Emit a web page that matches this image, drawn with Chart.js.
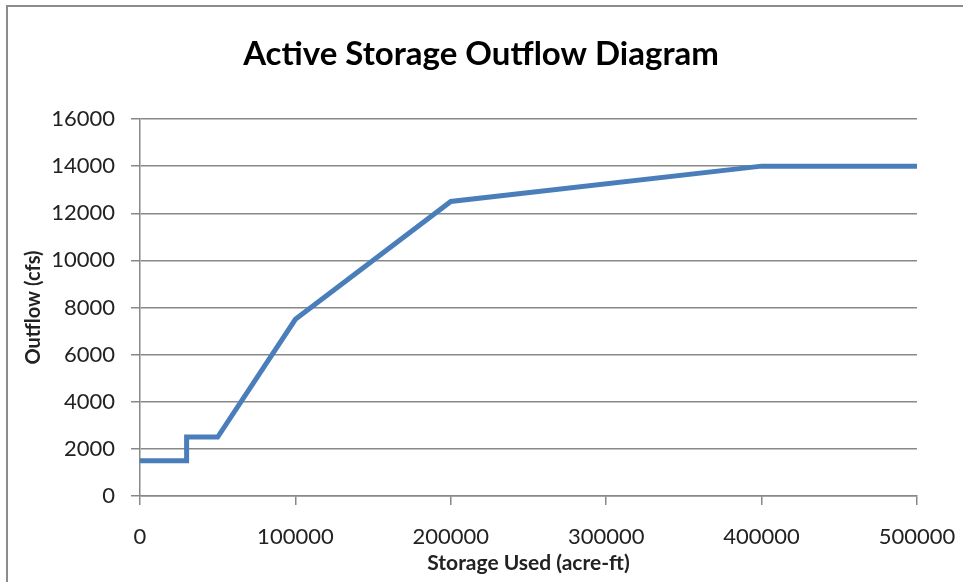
<!DOCTYPE html>
<html lang="en">
<head>
  <meta charset="UTF-8" />
  <title>Active Storage Outflow Diagram</title>
  <style>
    html, body { margin: 0; padding: 0; background: #fff; }
    #wrap { position: relative; width: 963px; height: 582px; overflow: hidden; }
    #frame {
      position: absolute; left: 6px; top: 5px; width: 1000px; height: 600px;
      border: 2px solid #8c8c8c; box-sizing: border-box; pointer-events: none;
    }
    canvas { position: absolute; left: 0; top: 0; }
  </style>
</head>
<body>
  <div id="wrap">
    <div id="frame"></div>
    <canvas id="outflowChart" width="963" height="582"></canvas>
  </div>

  <script src="https://cdn.jsdelivr.net/npm/chart.js"></script>
  <script>
    // storage used (acre-ft) vs outflow (cfs)
    const storageUsed = [0, 30000, 30000, 50000, 100000, 200000, 400000, 500000];
    const outflow     = [1500, 1500, 2500, 2500, 7500, 12500, 14000, 14000];

    const xTicks = [0, 100000, 200000, 300000, 400000, 500000];
    const yTicks = [0, 2000, 4000, 6000, 8000, 10000, 12000, 14000, 16000];

    const chartTitle = 'Active Storage Outflow Diagram';

    const points = storageUsed.map((x, i) => ({ x: x, y: outflow[i] }));

    const fam = 'Lato, "Open Sans", sans-serif';
    const tickFont = { family: fam, size: 22 };
    const labelColor = '#222';

    // title drawn by hand so it can sit where Excel put it
    const titlePlugin = {
      id: 'manualTitle',
      afterDraw(chart) {
        const c = chart.ctx;
        c.save();
        c.font = 'bold 33px ' + fam;
        c.fillStyle = '#000';
        c.textAlign = 'center';
        c.textBaseline = 'middle';
        c.fillText(chartTitle, 481, 54);
        c.restore();
      }
    };

    const ctx = document.getElementById('outflowChart').getContext('2d');
    const chart = new Chart(ctx, {
      type: 'line',
      data: {
        datasets: [{
          label: 'Outflow',
          data: points,
          borderColor: '#4a7ebb',
          borderWidth: 5,
          pointRadius: 0,
          fill: false,
          tension: 0
        }]
      },
      plugins: [titlePlugin],
      options: {
        responsive: false,
        animation: false,
        parsing: false,
        layout: { padding: { left: 0, right: 46, top: 119, bottom: 0 } },
        plugins: {
          legend: { display: false },
          tooltip: { enabled: false },
          title: { display: false }
        },
        scales: {
          x: {
            type: 'linear',
            min: 0,
            max: 500000,
            afterBuildTicks: (axis) => { axis.ticks = xTicks.map(v => ({ value: v })); },
            afterFit: (axis) => {
              axis.height = 86;
              axis.paddingLeft = 0;
              axis.paddingRight = 0;
            },
            border: { color: '#888', width: 1.5 },
            grid: {
              drawOnChartArea: false,
              drawTicks: true,
              tickLength: 9,
              color: '#888',
              lineWidth: 1.5
            },
            ticks: {
              color: labelColor,
              font: tickFont,
              padding: 19,
              maxRotation: 0,
              callback: (v) => String(v)
            },
            title: {
              display: true,
              text: 'Storage Used (acre-ft)',
              color: labelColor,
              font: { family: fam, size: 21, weight: 'bold' },
              padding: { top: 0, bottom: 6 }
            }
          },
          y: {
            min: 0,
            max: 16000,
            afterBuildTicks: (axis) => { axis.ticks = yTicks.map(v => ({ value: v })); },
            afterFit: (axis) => { axis.width = 140; },
            border: { color: '#888', width: 1.5 },
            grid: {
              drawOnChartArea: true,
              drawTicks: true,
              tickLength: 9,
              color: '#888',
              lineWidth: 1.5
            },
            ticks: {
              color: labelColor,
              font: tickFont,
              padding: 16,
              callback: (v) => String(v)
            },
            title: {
              display: true,
              text: 'Outflow (cfs)',
              color: labelColor,
              font: { family: fam, size: 20, weight: 'bold' },
              padding: { top: 22, bottom: 0 }
            }
          }
        }
      }
    });
  </script>
</body>
</html>
